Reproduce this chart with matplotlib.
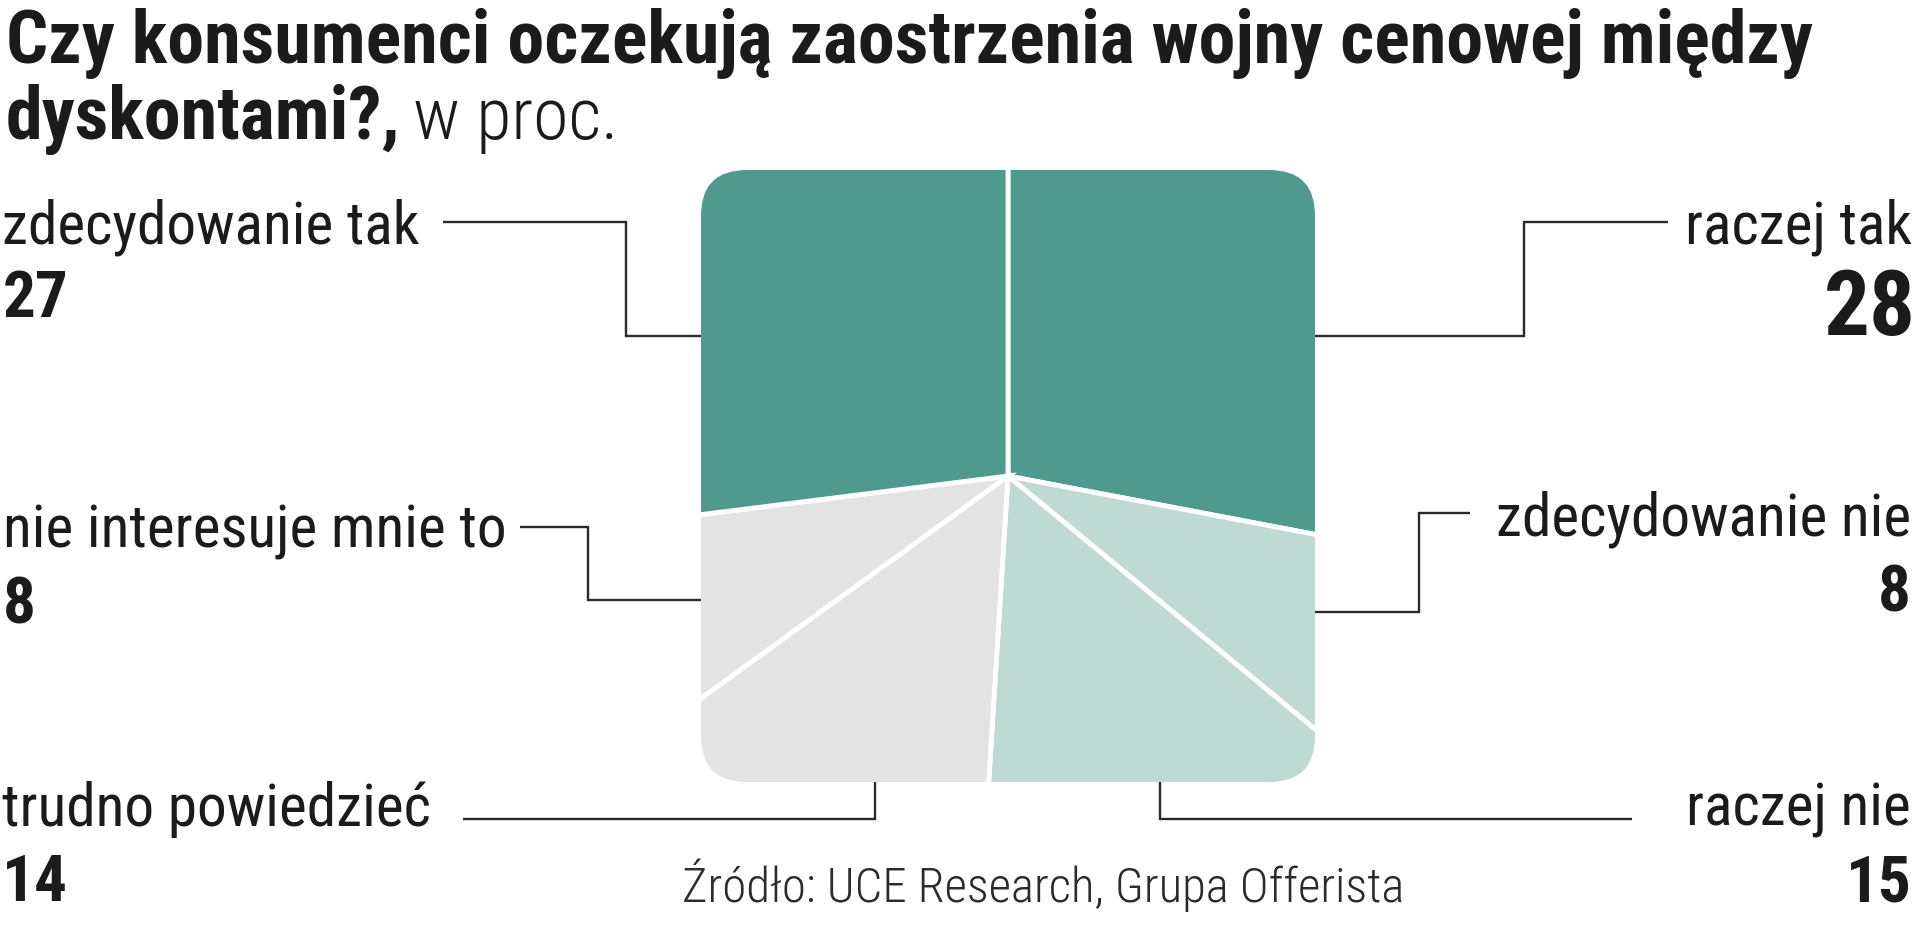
import matplotlib
matplotlib.use("Agg")
import matplotlib.pyplot as plt
from matplotlib import font_manager as fm
from matplotlib.patches import FancyBboxPatch

# ---------------- data ----------------
title_line1 = "Czy konsumenci oczekują zaostrzenia wojny cenowej między"
title_line2_bold = "dyskontami?,"
title_line2_unit = "w proc."
categories = ["raczej tak", "zdecydowanie nie", "raczej nie",
              "trudno powiedzieć", "nie interesuje mnie to", "zdecydowanie tak"]
values = [28, 8, 15, 14, 8, 27]
slice_colors = ["#4E9A8E", "#BFDAD3", "#BFDAD3", "#E3E3E4", "#E3E3E4", "#4E9A8E"]
source = "Źródło: UCE Research, Grupa Offerista"

# ---------------- fonts ----------------
ttf = fm.fontManager.ttflist
names = {f.name for f in ttf}
FAM, STRETCH = None, "normal"
for c in ["Roboto Condensed", "Open Sans Condensed", "Noto Sans Condensed",
          "Liberation Sans Narrow", "DejaVu Sans Condensed"]:
    if c in names:
        FAM = c
        break
if FAM is None:
    cond = [f for f in ttf if f.name in ("Roboto", "Noto Sans", "Open Sans", "DejaVu Sans")
            and str(f.stretch) in ("condensed", "semi-condensed", "extra-condensed")]
    if cond:
        FAM, STRETCH = cond[0].name, cond[0].stretch
    else:
        FAM = "Roboto" if "Roboto" in names else "DejaVu Sans"
FONT = [FAM, "DejaVu Sans"]

TXT = "#1b1b1d"
LINE = "#2a2a2a"

W, H = 1920, 925
fig = plt.figure(figsize=(W / 100, H / 100), dpi=100)
fig.patch.set_facecolor("white")

# overlay axes in pixel coordinates (y downwards)
ov = fig.add_axes([0, 0, 1, 1])
ov.set_xlim(0, W)
ov.set_ylim(H, 0)
ov.axis("off")

# ---------------- pie clipped to a rounded square ----------------
sq_l, sq_r, sq_t, sq_b = 701, 1315, 170, 782
ax = fig.add_axes([sq_l / W, 1 - sq_b / H, (sq_r - sq_l) / W, (sq_b - sq_t) / H])
wedges, _ = ax.pie(values, colors=slice_colors, startangle=90, counterclock=False,
                   radius=2.0, center=(0, 0),
                   wedgeprops=dict(edgecolor="white", linewidth=3.5))
ax.set_xlim(-1, 1)
ax.set_ylim(-1, 1)
ax.set_aspect("auto")
ax.axis("off")
clip = FancyBboxPatch((-1, -1), 2, 2, boxstyle="round,pad=0,rounding_size=0.15",
                      transform=ax.transData, facecolor="none", edgecolor="none")
ax.add_patch(clip)
for w in wedges:
    w.set_clip_on(True)
    w.set_clip_path(clip)

# ---------------- layout (positions, px) ----------------
layout = {
    "raczej tak":            dict(x=1912, ha="right", y=243, ny=335, nx=1916,
                                  leader=[(1315, 336), (1524, 336), (1524, 222), (1668, 222)]),
    "zdecydowanie nie":      dict(x=1911, ha="right", y=535, ny=612, nx=1911,
                                  leader=[(1315, 612), (1419, 612), (1419, 513), (1470, 513)]),
    "raczej nie":            dict(x=1911, ha="right", y=826, ny=901, nx=1912,
                                  leader=[(1160, 782), (1160, 819), (1632, 819)]),
    "trudno powiedzieć":     dict(x=2, ha="left", y=826, ny=901, nx=2,
                                  leader=[(875, 782), (875, 819), (463, 819)]),
    "nie interesuje mnie to": dict(x=3, ha="left", y=547, ny=623, nx=3,
                                  leader=[(701, 600), (588, 600), (588, 527), (520, 527)]),
    "zdecydowanie tak":      dict(x=2, ha="left", y=243, ny=317, nx=3,
                                  leader=[(701, 336), (626, 336), (626, 222), (443, 222)]),
}
label_widths = {"raczej tak": 222, "zdecydowanie nie": 422, "raczej nie": 220,
                "trudno powiedzieć": 438, "nie interesuje mnie to": 500,
                "zdecydowanie tak": 423}

fig.canvas.draw()
r = fig.canvas.get_renderer()


def width(t):
    return t.get_window_extent(renderer=r).width


def txt(x, y, s, size, weight="normal", ha="left", color=TXT):
    return ov.text(x, y, s, fontsize=size, fontweight=weight, ha=ha, va="baseline",
                   color=color, family=FONT, fontstretch=STRETCH)


# leader lines
for cat in categories:
    xs, ys = zip(*layout[cat]["leader"])
    ov.plot(xs, ys, color=LINE, lw=1.7, solid_joinstyle="miter", solid_capstyle="butt")

# category labels, common size
base = 42
lab_txt = {}
scales = []
for cat in categories:
    L = layout[cat]
    t = txt(L["x"], L["y"], cat, base, ha=L["ha"])
    lab_txt[cat] = t
    scales.append(label_widths[cat] / width(t))
s = min(sum(scales) / len(scales), 1.12)
for t in lab_txt.values():
    t.set_fontsize(base * s)

# numbers
num_base = 50
big = values.index(max(values))
num_targets = {2: 66, 1: 33}
nts, nscales = [], []
for i, cat in enumerate(categories):
    L = layout[cat]
    if i == big:
        continue
    t = txt(L["nx"], L["ny"], str(values[i]), num_base, weight="bold", ha=L["ha"])
    nts.append(t)
    nscales.append(num_targets[len(str(values[i]))] / width(t))
ns = min(sum(nscales) / len(nscales), 1.12)
for t in nts:
    t.set_fontsize(num_base * ns)
L = layout[categories[big]]
tb = txt(L["nx"], L["ny"], str(values[big]), 76, weight="bold", ha=L["ha"])
tb.set_fontsize(76 * min(92 / width(tb), 1.1))

# title
t1 = txt(6, 63, title_line1, 50, weight="bold")
t1.set_fontsize(50 * min(1806 / width(t1), 1.1))
t2 = txt(6, 139, title_line2_bold, 50, weight="bold")
t2.set_fontsize(t1.get_fontsize())
fig.canvas.draw()
x_end = ov.transData.inverted().transform(
    (t2.get_window_extent(renderer=r).x1, 0))[0]
t3 = txt(x_end + 12, 139, title_line2_unit, t1.get_fontsize(), weight="light")
t3.set_fontsize(t1.get_fontsize() * min(205 / width(t3), 1.12))

# source
ts = txt(682, 902, source, 30, weight="light", color="#2b2b2b")
ts.set_fontsize(30 * min(723 / width(ts), 1.18))

fig.savefig("out.png", dpi=100, facecolor="white")
